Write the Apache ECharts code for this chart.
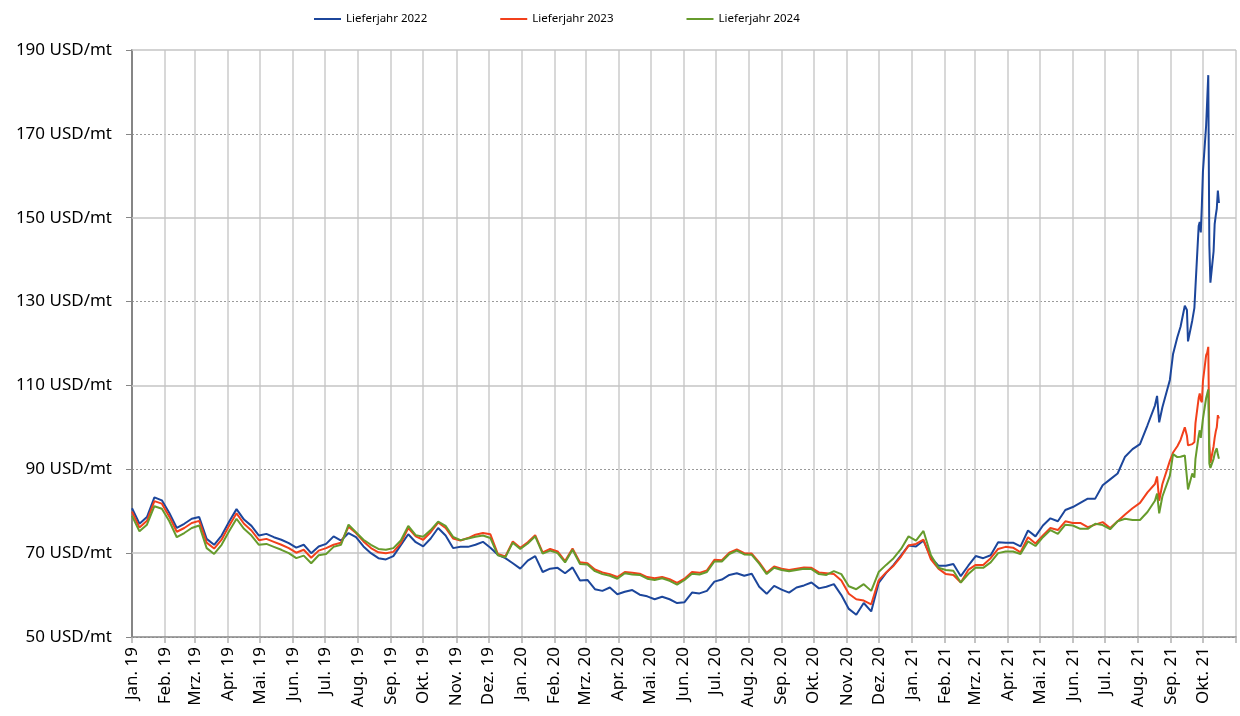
<!DOCTYPE html>
<html>
<head>
<meta charset="utf-8">
<title>Lieferjahr 2022-2024</title>
<script src="https://cdn.jsdelivr.net/npm/echarts@6/dist/echarts.min.js"></script>
<style>
  html, body { margin: 0; padding: 0; background: #fff; }
  #chart { width: 1240px; height: 716px; }
</style>
</head>
<body>
<div id="chart"></div>
<script>
// Notierungstage
const dates = [
  '2019-01-01','2019-01-08','2019-01-15','2019-01-22','2019-01-29','2019-02-05','2019-02-12','2019-02-19','2019-02-26',
  '2019-03-05','2019-03-12','2019-03-19','2019-03-26','2019-04-02','2019-04-09','2019-04-16','2019-04-23','2019-04-30',
  '2019-05-07','2019-05-14','2019-05-21','2019-05-28','2019-06-04','2019-06-11','2019-06-18','2019-06-25','2019-07-02',
  '2019-07-09','2019-07-16','2019-07-23','2019-07-30','2019-08-06','2019-08-13','2019-08-20','2019-08-27','2019-09-03',
  '2019-09-10','2019-09-17','2019-09-24','2019-10-01','2019-10-08','2019-10-15','2019-10-22','2019-10-29','2019-11-05',
  '2019-11-12','2019-11-19','2019-11-26','2019-12-03','2019-12-10','2019-12-17','2019-12-24','2019-12-31',
  '2020-01-07','2020-01-14','2020-01-21','2020-01-28','2020-02-04','2020-02-11','2020-02-18','2020-02-25','2020-03-03',
  '2020-03-10','2020-03-17','2020-03-24','2020-03-31','2020-04-07','2020-04-14','2020-04-21','2020-04-28','2020-05-05',
  '2020-05-12','2020-05-19','2020-05-26','2020-06-02','2020-06-09','2020-06-16','2020-06-23','2020-06-30',
  '2020-07-07','2020-07-14','2020-07-21','2020-07-28','2020-08-04','2020-08-11','2020-08-18','2020-08-25','2020-09-01',
  '2020-09-08','2020-09-15','2020-09-22','2020-09-29','2020-10-06','2020-10-13','2020-10-20','2020-10-27','2020-11-03',
  '2020-11-10','2020-11-17','2020-11-24','2020-12-01','2020-12-08','2020-12-15','2020-12-22','2020-12-29',
  '2021-01-05','2021-01-12','2021-01-19','2021-01-26','2021-02-02','2021-02-09','2021-02-16','2021-02-23','2021-03-02',
  '2021-03-09','2021-03-16','2021-03-23','2021-03-30','2021-04-06','2021-04-13','2021-04-20','2021-04-27','2021-05-04',
  '2021-05-11','2021-05-18','2021-05-25','2021-06-01','2021-06-08','2021-06-15','2021-06-22','2021-06-29','2021-07-06',
  '2021-07-13','2021-07-20','2021-07-27','2021-08-03','2021-08-10',
  '2021-08-17','2021-08-19','2021-08-21','2021-08-24','2021-08-31',
  '2021-09-03','2021-09-07','2021-09-10','2021-09-14','2021-09-16','2021-09-17','2021-09-21','2021-09-23','2021-09-24',
  '2021-09-27','2021-09-28','2021-09-29','2021-09-30','2021-10-01','2021-10-04','2021-10-05','2021-10-06','2021-10-07',
  '2021-10-08','2021-10-11','2021-10-12','2021-10-13','2021-10-14','2021-10-15','2021-10-16'
];

const lieferjahr2022 = [
  80.7, 77.0, 78.6, 83.3, 82.6, 79.6, 76.0, 77.0, 78.2, 78.6, 73.4, 72.0, 74.2,
  77.5, 80.5, 78.0, 76.5, 74.2, 74.6, 73.8, 73.2, 72.4, 71.3, 72.0, 70.0, 71.6, 72.2,
  74.0, 73.0, 74.8, 73.8, 71.6, 70.0, 68.8, 68.5, 69.3, 71.9, 74.5, 72.6, 71.6, 73.5, 76.0, 74.2, 71.2, 71.5, 71.5, 72.0, 72.7, 71.3, 69.6, 68.8, 67.6, 66.3,
  68.2, 69.3, 65.5, 66.3, 66.5, 65.2, 66.6, 63.5, 63.6, 61.4, 61.0, 61.8, 60.2, 60.8, 61.2, 60.1, 59.7, 59.0, 59.6, 59.0, 58.1, 58.3, 60.6, 60.4, 61.0, 63.2,
  63.7, 64.8, 65.2, 64.6, 65.1, 62.0, 60.3, 62.2, 61.3, 60.6, 61.8, 62.3, 63.0, 61.6, 62.0, 62.6, 60.0, 56.7, 55.3, 58.1, 56.1, 62.9, 65.3, 67.2, 69.5, 71.8,
  71.6, 73.0, 69.0, 67.0, 67.0, 67.4, 64.5, 67.0, 69.3, 68.8, 69.5, 72.6, 72.5, 72.5, 71.6, 75.4, 74.0, 76.6, 78.3, 77.6, 80.3, 81.0, 82.0, 83.0, 83.0, 86.2, 87.6, 89.0, 93.0, 94.8, 96.0, 100.5,
  105.2, 107.5, 101.2, 104.8, 111.3,
  117.5, 121.5, 124.0, 129.0, 128.0, 120.5, 125.5, 128.5, 133.5, 148.0, 149.0, 146.5, 153.0, 161.0, 172.0, 178.0, 184.0, 143.5, 134.5, 142.0, 148.5, 150.5, 152.2, 156.5, 153.5
];

const lieferjahr2023 = [
  79.9, 76.1, 77.7, 82.4, 81.8, 78.7, 75.1, 76.0, 77.2, 77.7, 72.5, 71.1, 73.2,
  76.5, 79.5, 77.0, 75.4, 73.1, 73.4, 72.7, 72.0, 71.2, 70.1, 70.8, 68.9, 70.6, 71.2,
  72.0, 72.5, 76.3, 74.8, 72.8, 71.2, 70.2, 70.0, 70.3, 72.4, 76.0, 74.0, 73.2, 75.0, 77.3, 76.0, 73.5, 73.0, 73.6, 74.4, 74.8, 74.5, 69.8, 69.2, 72.8, 71.3,
  72.6, 74.3, 70.2, 71.0, 70.4, 68.1, 71.1, 67.8, 67.6, 66.1, 65.4, 65.0, 64.3, 65.5, 65.3, 65.1, 64.3, 64.0, 64.3, 63.8, 62.9, 63.9, 65.5, 65.3, 65.9, 68.4,
  68.3, 70.1, 70.9, 70.0, 69.9, 67.8, 65.3, 66.8, 66.3, 66.0, 66.3, 66.6, 66.5, 65.4, 65.2, 65.0, 63.5, 60.3, 59.0, 58.7, 57.8, 63.5, 65.4, 67.0, 69.2, 71.8,
  72.2, 73.2, 68.5, 66.3, 65.0, 64.8, 63.0, 66.0, 67.2, 67.2, 68.8, 71.0, 71.5, 71.3, 70.2, 73.8, 72.3, 74.2, 76.0, 75.5, 77.6, 77.2, 77.2, 76.2, 76.8, 77.4, 76.0, 77.6, 79.2, 80.7, 82.0, 84.5,
  86.5, 88.3, 82.5, 86.5, 92.0,
  94.0, 95.5, 97.0, 100.0, 98.0, 95.7, 96.0, 96.5, 101.0, 107.0, 108.1, 106.5, 106.0, 111.0, 117.2, 117.8, 119.2, 96.1, 91.5, 95.5, 97.5, 99.0, 100.0, 102.9, 102.1
];

const lieferjahr2024 = [
  78.9, 75.2, 76.8, 81.2, 80.6, 77.6, 73.8, 74.8, 76.0, 76.6, 71.2, 69.8, 72.0,
  75.2, 78.2, 75.8, 74.2, 72.0, 72.2, 71.5, 70.8, 70.0, 68.8, 69.4, 67.6, 69.5, 69.8,
  71.5, 72.0, 76.8, 75.0, 73.2, 72.0, 71.0, 70.8, 71.2, 73.0, 76.5, 74.3, 73.9, 75.5, 77.5, 76.5, 73.9, 73.1, 73.5, 73.9, 74.2, 73.6, 69.5, 69.0, 72.5, 71.0,
  72.3, 74.0, 69.9, 70.6, 70.0, 67.8, 70.8, 67.4, 67.3, 65.7, 65.0, 64.6, 63.9, 65.2, 64.9, 64.8, 63.9, 63.6, 64.0, 63.4, 62.5, 63.6, 65.1, 64.9, 65.5, 68.0,
  68.0, 69.8, 70.6, 69.7, 69.6, 67.5, 65.0, 66.5, 66.0, 65.7, 66.0, 66.3, 66.2, 65.0, 64.8, 65.7, 65.0, 62.1, 61.4, 62.6, 61.0, 65.5, 67.2, 68.8, 71.0, 74.0,
  73.0, 75.3, 69.5, 66.5, 66.0, 65.8, 63.0, 65.0, 66.6, 66.5, 67.8, 70.0, 70.4, 70.4, 69.8, 72.8, 71.7, 73.8, 75.5, 74.6, 76.8, 76.6, 75.8, 75.8, 77.0, 76.7, 75.7, 77.6, 78.2, 77.9, 77.9, 79.8,
  82.5, 84.2, 79.5, 83.5, 88.5,
  93.6, 92.9, 93.0, 93.3, 88.0, 85.2, 89.0, 88.0, 92.5, 98.0, 99.3, 97.5, 97.5, 102.0, 107.0, 108.0, 109.0, 91.4, 90.3, 92.5, 93.7, 94.5, 95.0, 93.5, 92.5
];

// Monatsbeschriftung der x-Achse
const monthLabels = [
  'Jan. 19','Feb. 19','Mrz. 19','Apr. 19','Mai. 19','Jun. 19','Jul. 19','Aug. 19','Sep. 19','Okt. 19','Nov. 19','Dez. 19',
  'Jan. 20','Feb. 20','Mrz. 20','Apr. 20','Mai. 20','Jun. 20','Jul. 20','Aug. 20','Sep. 20','Okt. 20','Nov. 20','Dez. 20',
  'Jan. 21','Feb. 21','Mrz. 21','Apr. 21','Mai. 21','Jun. 21','Jul. 21','Aug. 21','Sep. 21','Okt. 21'
];
const seriesNames = ['Lieferjahr 2022', 'Lieferjahr 2023', 'Lieferjahr 2024'];
const seriesValues = [lieferjahr2022, lieferjahr2023, lieferjahr2024];
const seriesColors = ['#1c469b', '#f2401b', '#669b2c'];
const solidGridValues = [70, 110, 150, 190];

function toTime(s) {
  const p = s.split('-').map(Number);
  return new Date(p[0], p[1] - 1, p[2]).getTime();
}

// Monatsanfaenge (plus Ende Okt. 21) als Ticks
const monthTicks = monthLabels.map((l, i) => new Date(2019, i, 1).getTime());
monthTicks.push(new Date(2019, monthLabels.length, 1).getTime());

const font = 'Noto Sans';

let myChart = echarts.init(document.getElementById('chart'));
myChart.setOption({
  animation: false,
  textStyle: { fontFamily: font },
  legend: {
    data: seriesNames,
    left: 309,
    top: 8,
    icon: 'rect',
    itemGap: 73,
    itemWidth: 27,
    itemHeight: 2,
    textStyle: { fontSize: 11.5, color: '#000', fontFamily: font }
  },
  grid: { left: 132, right: 4, top: 50, bottom: 79 },
  xAxis: {
    type: 'value',
    min: monthTicks[0],
    max: monthTicks[monthTicks.length - 1],
    axisLine: { lineStyle: { color: '#868686', width: 1.5 } },
    axisTick: { customValues: monthTicks, length: 6, lineStyle: { color: '#b0b0b0', width: 1.5 } },
    axisLabel: {
      customValues: monthTicks.slice(0, -1),
      rotate: 90,
      margin: 10,
      fontSize: 17,
      color: '#000',
      fontFamily: font,
      formatter: function (value) {
        const d = new Date(value);
        return monthLabels[(d.getFullYear() - 2019) * 12 + d.getMonth()] || '';
      }
    },
    splitLine: { show: true, lineStyle: { color: '#cbcbcb', width: 1.5 } }
  },
  yAxis: {
    type: 'value',
    min: 50,
    max: 190,
    interval: 20,
    axisLine: { show: true, lineStyle: { color: '#868686', width: 2 } },
    axisTick: { show: true, length: 6, lineStyle: { color: '#868686' } },
    axisLabel: { formatter: '{value} USD/mt', fontSize: 17, color: '#000', margin: 20, fontFamily: font },
    splitLine: {
      lineStyle: { color: ['#9a9a9a', 'rgba(0,0,0,0)'], type: [2, 2], width: 1 } // gestrichelt: 90/130/170
    }
  },
  series: [
    {
      name: 'grid',
      type: 'line',
      data: [],
      z: 1,
      silent: true,
      markLine: {
        z: 1,
        silent: true,
        symbol: 'none',
        label: { show: false },
        lineStyle: { color: '#c4c4c4', type: 'solid', width: 1.5 },
        data: solidGridValues.map(v => ({ yAxis: v }))
      }
    }
  ].concat(seriesNames.map((name, k) => ({
    name: name,
    type: 'line',
    symbol: 'none',
    z: 3 + k,
    lineStyle: { width: 2, color: seriesColors[k] },
    itemStyle: { color: seriesColors[k] },
    data: dates.map((d, i) => [toTime(d), seriesValues[k][i]])
  })))
});
window.onresize = function () {
  myChart.resize();
};
</script>
</body>
</html>
